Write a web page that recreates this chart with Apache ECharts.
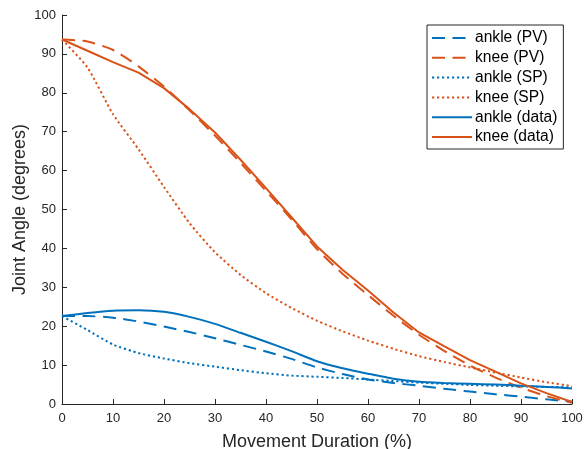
<!DOCTYPE html>
<html>
<head>
<meta charset="utf-8">
<script src="https://cdn.jsdelivr.net/npm/echarts@6/dist/echarts.min.js"></script>
<style>
  html, body { margin: 0; padding: 0; background: #fff; }
  #chart { width: 587px; height: 449px; }
</style>
</head>
<body>
<div id="chart"></div>
<script>
// movement duration (%) sample points
const duration = [0, 5, 10, 15, 20, 25, 30, 35, 40, 45, 50, 55, 60, 65, 70, 75, 80, 85, 90, 95, 100];

const anklePV = [22.6, 22.6, 22.2, 21.2, 19.9, 18.5, 16.9, 15.2, 13.5, 11.6, 9.4, 7.7, 6.3, 5.4, 4.7, 3.9, 3.2, 2.5, 1.9, 1.2, 0.6];
const kneePV = [93.7, 93.2, 91.0, 86.8, 81.6, 75.5, 69.0, 62.0, 54.8, 47.5, 39.8, 33.5, 28.0, 22.7, 17.8, 13.6, 9.9, 6.8, 4.2, 2.0, 0.3];
const ankleSP = [22.6, 19.0, 15.3, 13.1, 11.7, 10.5, 9.6, 8.7, 7.9, 7.3, 7.0, 6.7, 6.3, 5.9, 5.5, 5.2, 4.9, 4.7, 4.5, 4.4, 4.3];
const kneeSP = [93.7, 86.5, 74.5, 65.5, 55.8, 46.5, 39.0, 33.2, 28.5, 24.7, 21.4, 18.7, 16.3, 14.2, 12.3, 10.8, 9.4, 8.1, 6.8, 5.6, 4.6];
const ankleData = [22.6, 23.4, 24.0, 24.1, 23.7, 22.4, 20.6, 18.3, 16.0, 13.6, 11.0, 9.2, 7.8, 6.5, 5.7, 5.4, 5.2, 5.0, 4.7, 4.4, 4.0];
const kneeData = [93.7, 90.8, 87.9, 85.2, 81.2, 75.8, 69.8, 62.8, 55.5, 48.0, 40.5, 34.5, 29.2, 23.5, 18.4, 14.8, 11.3, 8.3, 5.3, 2.8, 0.5];

const blue = '#0072BD';
const orange = '#D95319';
const axisColor = '#262626';

function pairs(ys) {
  return duration.map((x, i) => [x, ys[i]]);
}

function makeSeries(name, ys, color, type, smooth) {
  return {
    name: name,
    type: 'line',
    symbol: 'none',
    smooth: smooth,
    data: pairs(ys),
    color: color,
    lineStyle: { color: color, width: 2, type: type },
    emphasis: { disabled: true }
  };
}

const chart = echarts.init(document.getElementById('chart'));
chart.setOption({
  animation: false,
  textStyle: { fontFamily: 'Liberation Sans, Arial, sans-serif' },
  grid: { left: 62, right: 15, top: 15, bottom: 45, outerBoundsMode: 'none', containLabel: false },
  legend: {
    orient: 'vertical',
    left: 427,
    top: 25,
    padding: [5, 6, 4, 4],
    itemWidth: 40,
    itemHeight: 12,
    itemGap: 3.8,
    borderColor: axisColor,
    borderWidth: 1,
    itemStyle: { opacity: 0 },
    textStyle: { fontSize: 15.6, lineHeight: 16, color: '#000', padding: [0, 0, 0, -2] },
    data: ['ankle (PV)', 'knee (PV)', 'ankle (SP)', 'knee (SP)', 'ankle (data)', 'knee (data)']
  },
  xAxis: {
    type: 'value',
    min: 0,
    max: 100,
    interval: 10,
    name: 'Movement Duration (%)',
    nameLocation: 'middle',
    nameGap: 29,
    nameMoveOverlap: false,
    nameTextStyle: { fontSize: 18, color: axisColor },
    axisLine: { lineStyle: { color: axisColor, width: 1 } },
    axisTick: { inside: true, length: 5, lineStyle: { color: axisColor } },
    axisLabel: { fontSize: 13, color: axisColor, margin: 8 },
    splitLine: { show: false }
  },
  yAxis: {
    type: 'value',
    min: 0,
    max: 100,
    interval: 10,
    name: 'Joint Angle (degrees)',
    nameLocation: 'middle',
    nameGap: 33,
    nameMoveOverlap: false,
    nameTextStyle: { fontSize: 18, color: axisColor },
    axisLine: { show: true, lineStyle: { color: axisColor, width: 1 } },
    axisTick: { show: true, inside: true, length: 5, lineStyle: { color: axisColor } },
    axisLabel: { fontSize: 13, color: axisColor, margin: 6 },
    splitLine: { show: false }
  },
  series: [
    makeSeries('ankle (PV)', anklePV, blue, [13, 7.5], 0.2),
    makeSeries('knee (PV)', kneePV, orange, [13, 7.5], 0.2),
    makeSeries('ankle (SP)', ankleSP, blue, [2.2, 2.8], 0.2),
    makeSeries('knee (SP)', kneeSP, orange, [2.2, 2.8], 0.2),
    makeSeries('ankle (data)', ankleData, blue, 'solid', 0.2),
    makeSeries('knee (data)', kneeData, orange, 'solid', false)
  ]
});
</script>
</body>
</html>
